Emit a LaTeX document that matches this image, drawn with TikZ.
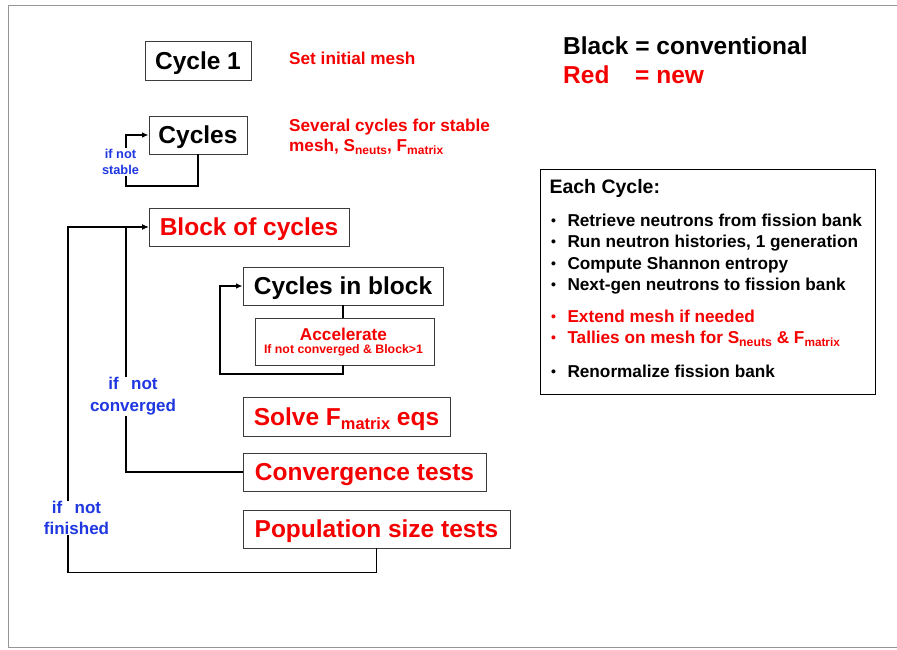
\documentclass[tikz,border=0pt]{standalone}
\usepackage{fontspec}
\setmainfont{Liberation Sans}
\usetikzlibrary{arrows.meta}
\newcommand{\fsz}[1]{\fontsize{#1}{#1}\selectfont}
\newcommand{\dn}[3]{\raisebox{-#2}{\fsz{#1}#3}}
\newcommand{\bul}{\makebox[16.3pt][l]{\raisebox{0.6pt}{\fsz{14}•}}}
\definecolor{myred}{RGB}{245,0,0}
\definecolor{myblue}{RGB}{30,55,225}
\definecolor{framegray}{RGB}{150,150,150}
\definecolor{boxgray}{RGB}{60,60,60}
\tikzset{
  box/.style={draw=boxgray, line width=0.8pt, inner sep=0pt, fill=white},
  big/.style={font=\bfseries\fsz{24.5}, text height=17.5pt, text depth=0pt},
  med/.style={font=\bfseries\fsz{17.2}, inner sep=0pt},
  small/.style={font=\bfseries\fsz{12.3}, inner sep=0pt},
  legend/.style={font=\bfseries\fsz{24.5}, inner sep=0pt},
  head/.style={font=\bfseries\fsz{19.5}, inner sep=0pt},
  conn/.style={line width=1.3pt, black},
  arr/.style={conn, -{Latex[length=6.5pt,width=5.5pt]}},
  lbl/.style={font=\bfseries\fsz{17}, text=myblue, fill=white, align=center, inner sep=1pt},
  slbl/.style={font=\bfseries\fontsize{12.8}{16.7}\selectfont, text=myblue, fill=white, align=center, inner sep=1pt},
}
\begin{document}
\begin{tikzpicture}[x=1pt,y=-1pt]
\useasboundingbox (0,0) rectangle (897,649);
\draw[framegray, line width=0.8pt] (897,5) -- (8,5) -- (8,647) -- (897,647);

% top row
\node[box, big, minimum width=106, minimum height=39] (c1) at (198,60.5) {Cycle 1};
\node[med, text=myred, anchor=base west] (setmesh) at (289,64) {Set initial mesh};
\node[legend, anchor=base west] (blackl) at (563,54.3) {Black = conventional};
\node[legend, text=myred, anchor=base west] (redl) at (563,83.3) {Red};
\node[legend, text=myred, anchor=base west] (rednew) at (635,83.3) {= new};

% cycles
\node[box, big, minimum width=98, minimum height=38] (cyc) at (198,135) {Cycles};
\node[med, text=myred, anchor=base west] (sev1) at (289,131) {Several cycles for stable};
\node[med, text=myred, anchor=base west] (sev2) at (289,151.7) {mesh, S\dn{12}{3pt}{neuts}, F\dn{12}{3pt}{matrix}};

% main boxes
\node[box, big, text=myred, minimum width=200, minimum height=38] (blk) at (249,227) {Block of cycles};
\node[box, big, minimum width=200, minimum height=38] (cinb) at (343,286) {Cycles in block};
\node[box, minimum width=179, minimum height=47] (acc) at (344.5,341.5) {};
\node[med, text=myred, anchor=base] (acct) at (343.5,340) {Accelerate};
\node[small, text=myred, anchor=base] (accs) at (343.5,353.3) {If not converged \& Block>1};
\node[box, big, text=myred, minimum width=207, minimum height=39] (solve) at (346.5,416.5) {Solve F\dn{16.4}{4pt}{matrix} eqs};
\node[box, big, text=myred, minimum width=243, minimum height=38] (conv) at (364.5,472) {Convergence tests};
\node[box, big, text=myred, minimum width=267, minimum height=38] (pop) at (376.5,529) {Population size tests};

% connectors
\coordinate (stabl) at (126,186);
\draw[arr] (cyc.south) |- (stabl) |- (cyc.west);

\draw[conn] (cinb.south) -- (cinb.south |- acc.north);
\coordinate (accl) at (220,374);
\draw[arr] (cinb.south |- acc.south) |- (accl) |- (cinb.west);

\coordinate (innx) at (126,0);
\draw[arr] (conv.west) -- (conv.west -| innx) |- (blk.west);

\coordinate (outx) at (68,0);
\draw[arr] (pop.south) -- ++(0,24) -| (outx |- blk.west) -- (blk.west);

% loop labels
\node[slbl] (nstable) at (120.5,162) {if not\\stable};
\node[lbl, font=\bfseries\fontsize{17}{21.7}\selectfont] (nconv) at (133,396.4) {if\hspace{0.45em} not\\converged};
\node[lbl, font=\bfseries\fontsize{17}{20.3}\selectfont] (nfin) at (76.5,518) {if\hspace{0.45em} not\\finished};

% each cycle box
\node[draw=black, line width=0.9pt, minimum width=335, minimum height=225, inner sep=0pt] (each) at (707.5,281.5) {};
\node[head, anchor=base west] (eh) at (549.3,193.3) {Each Cycle:};
\node[med, anchor=base west] (i1) at (551,226) {\bul Retrieve neutrons from fission bank};
\node[med, anchor=base west] (i2) at (551,247.3) {\bul Run neutron histories, 1 generation};
\node[med, anchor=base west] (i3) at (551,269) {\bul Compute Shannon entropy};
\node[med, anchor=base west] (i4) at (551,290) {\bul Next-gen neutrons to fission bank};
\node[med, text=myred, anchor=base west] (i5) at (551,322.3) {\bul Extend mesh if needed};
\node[med, text=myred, anchor=base west] (i6) at (551,343.3) {\bul Tallies on mesh for S\dn{12.3}{3.3pt}{neuts} \& F\dn{11.8}{3.3pt}{matrix}};
\node[med, anchor=base west] (i7) at (551,377.3) {\bul Renormalize fission bank};
\end{tikzpicture}
\end{document}
